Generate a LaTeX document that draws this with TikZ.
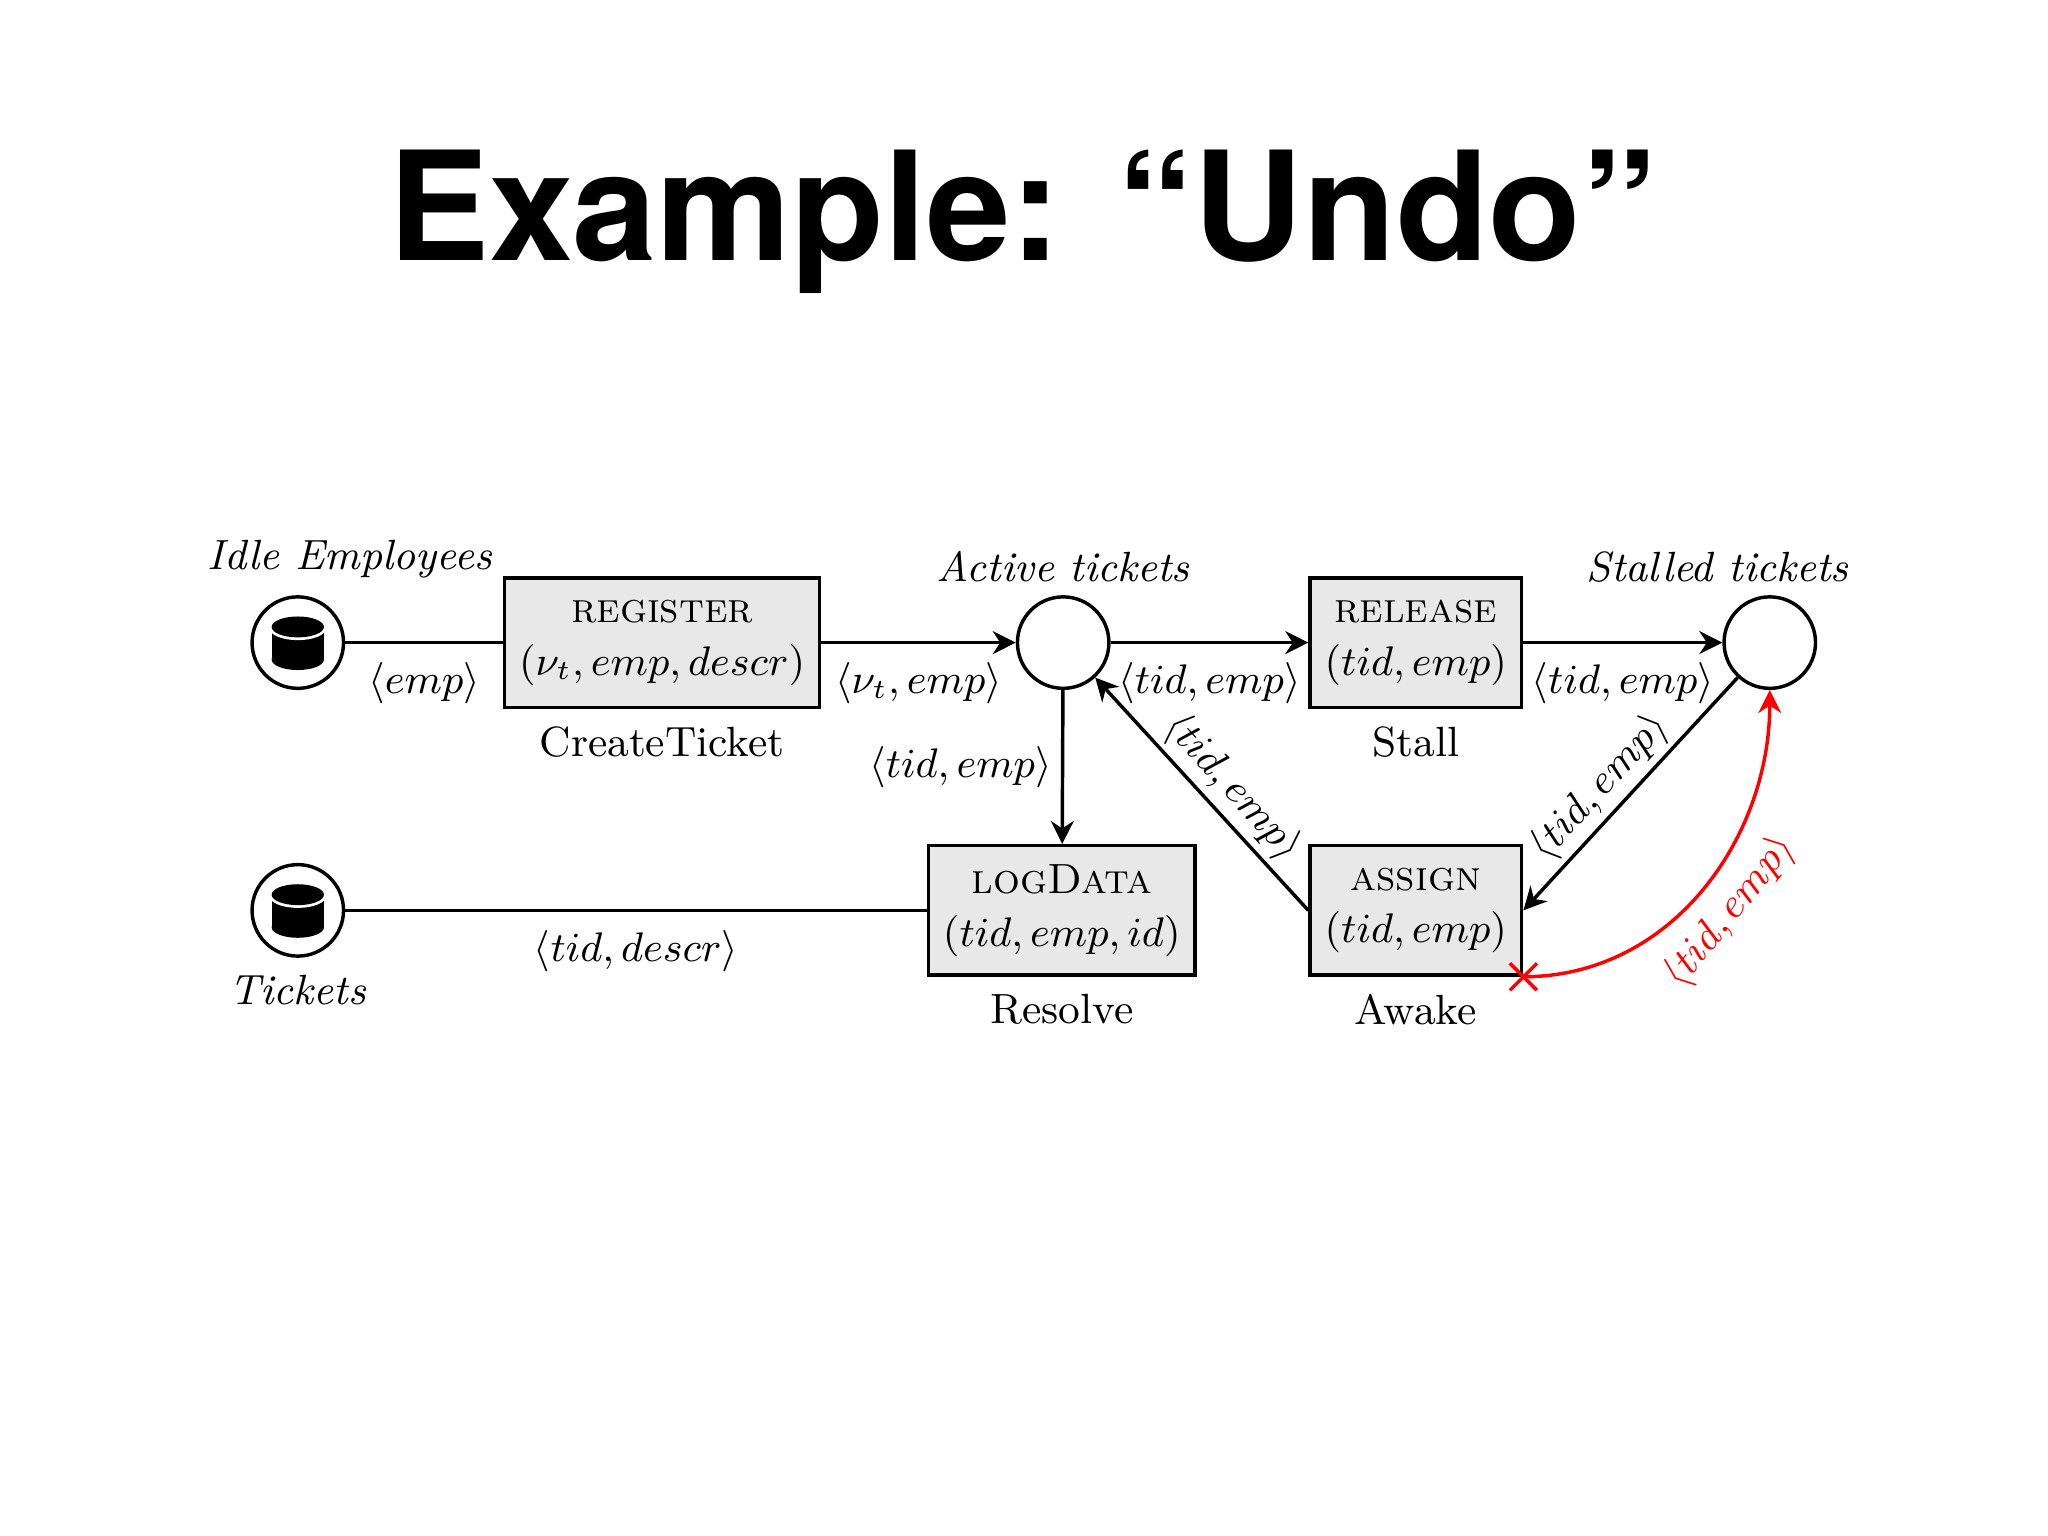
\documentclass[tikz,border=0pt]{standalone}
\usepackage{fontspec}
\newfontfamily\titlefont{TeX Gyre Heros}
\usepackage{amsmath}
\usetikzlibrary{arrows.meta,shapes.misc,calc}
\begin{document}
\begin{tikzpicture}[x=0.01cm,y=-0.01cm,
  every node/.style={font=\fontsize{9.2}{11}\selectfont},
  place/.style={draw,circle,line width=0.75pt,minimum size=0.7cm,inner sep=0pt},
  trans/.style={draw,line width=0.75pt,fill=gray!18,minimum width=#1,minimum height=0.99cm,align=center,inner sep=0pt},
  arc/.style={line width=0.75pt},
  arr/.style={line width=0.75pt,-{Stealth[length=5pt,width=5pt]}},
  lbl/.style={inner sep=1pt}]
\useasboundingbox (0,0) rectangle (1568,1176);
\node[font=\titlefont\bfseries\fontsize{33}{36}\selectfont] (title) at (783,170) {Example: “Undo”};
% places
\node[place] (idle) at (228,492) {};
\node[place] (active) at (814,492) {};
\node[place] (stalled) at (1355,492) {};
\node[place] (tickets) at (228,697) {};
\foreach \p in {idle,tickets}{
  \fill ($(\p.center)+(0,13)$) ellipse (0.2cm and 0.08cm);
  \fill ($(\p.center)+(-20,-12)$) rectangle ($(\p.center)+(20,13)$);
  \draw[white,line width=1.2pt] ($(\p.center)+(-20,-12)$) arc[start angle=180,end angle=360,x radius=0.2cm,y radius=0.08cm];
  \fill ($(\p.center)+(0,-12)$) ellipse (0.2cm and 0.08cm);
}
\node[font=\fontsize{9.2}{11}\selectfont\itshape] (lidle) at (268,428) {Idle Employees};
\node[font=\fontsize{9.2}{11}\selectfont\itshape] (lactive) at (814,434) {Active tickets};
\node[font=\fontsize{9.2}{11}\selectfont\itshape] (lstalled) at (1315,434) {Stalled tickets};
\node[font=\fontsize{9.2}{11}\selectfont\itshape] (ltickets) at (228,758) {Tickets};
% transitions
\node[trans=2.41cm] (reg) at (507,492) {\textsc{register}\\[0.5pt]$(\nu_t, emp, descr)$};
\node (lreg) at (507,568) {CreateTicket};
\node[trans=1.62cm] (rel) at (1084,492) {\textsc{release}\\[0.5pt]$(tid, emp)$};
\node (lrel) at (1084,568) {Stall};
\node[trans=2.04cm] (log) at (813,697) {\textsc{logData}\\[0.5pt]$(tid, emp, id)$};
\node (llog) at (813,773) {Resolve};
\node[trans=1.62cm] (asg) at (1084,697) {\textsc{assign}\\[0.5pt]$(tid, emp)$};
\node (lasg) at (1084,773) {Awake};
% arcs
\draw[arc] (idle) -- node[lbl,below,yshift=-3pt] {$\langle emp\rangle$} (reg);
\draw[arr] (reg) -- node[lbl,below,yshift=-3pt] {$\langle \nu_t, emp\rangle$} (active);
\draw[arr] (active) -- node[lbl,below,yshift=-3pt] {$\langle tid, emp\rangle$} (rel);
\draw[arr] (rel) -- node[lbl,below,yshift=-3pt] {$\langle tid, emp\rangle$} (stalled);
\draw[arr] (active) -- node[lbl,left,pos=0.5,xshift=-1pt] {$\langle tid, emp\rangle$} (log);
\draw[arc] (log) -- node[lbl,below,pos=0.5,yshift=-3pt] {$\langle tid, descr\rangle$} (tickets);
\draw[arr] (stalled) -- node[lbl,sloped,above,pos=0.55] {$\langle tid, emp\rangle$} (asg.east);
\draw[arr] (asg.west) -- node[lbl,sloped,above,pos=0.45] {$\langle tid, emp\rangle$} (active);
\coordinate (cx) at (asg.south east);
\draw[red,line width=0.75pt,-{Stealth[length=5pt,width=5pt]}] (cx) to[out=0,in=-90] node[lbl,sloped,below,pos=0.5,yshift=-2pt] {$\langle tid, emp\rangle$} (stalled.south);
\node[red,draw,cross out,line width=0.75pt,minimum size=0.18cm,inner sep=0pt] (x) at (cx) {};
\end{tikzpicture}
\end{document}
